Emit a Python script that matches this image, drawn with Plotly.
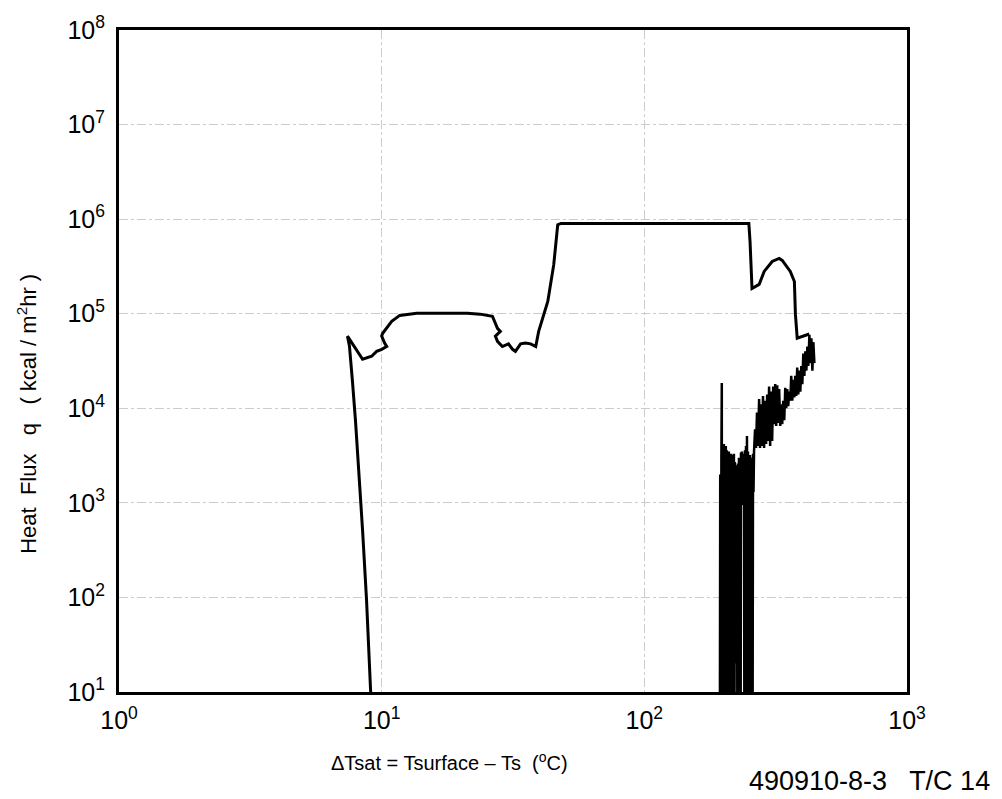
import plotly.graph_objects as go

# ---- data (ΔTsat in °C, q in kcal/m2hr) ----
main_dt = [9.08, 8.76, 8.46, 8.16, 7.95, 7.74, 7.54, 7.41,
           8.46, 9.16, 9.57, 10.0, 10.45, 10.26, 10.0, 10.09, 10.92, 11.72,
           13.6, 16.7, 21.2, 23.7, 26.4, 27.6, 28.3, 27.1, 27.6, 28.8, 30.4,
           31.5, 32.3, 33.8, 35.3, 36.9, 38.6, 39.6, 42.9, 45.2, 46.8, 48.1,
           250.0, 252.6, 257.0, 273.5, 285.9, 306.7, 326.0, 335.0, 359.5,
           372.6, 376.0, 382.0, 424.6]
main_q = [10, 93, 509, 2790, 7350, 19400, 45300, 58000,
          33000, 35500, 40000, 42000, 45000, 49000, 58000, 62000, 83000, 96000,
          101000, 101000, 101000, 99000, 94000, 70000, 65000, 58000, 51000, 45000, 48000,
          42000, 40000, 48000, 49000, 48000, 45000, 65000, 135000, 330000, 870000, 900000,
          900000, 580000, 185000, 204000, 280000, 357000, 384000, 366000, 280000,
          219000, 99000, 55000, 61000]

noise_dt = [193.8, 194.5, 195.6, 196.5, 197.2, 197.6, 199.0, 199.5, 200.8, 201.5,
            202.5, 203.2, 204.3, 205.0, 206.2, 207.0, 208.0, 209.0, 209.8, 210.7,
            211.7, 212.5, 213.6, 214.5, 215.4, 216.4, 217.4, 218.3, 219.3, 220.2,
            221.2, 222.2, 223.2, 224.2, 225.2, 226.2, 227.2, 228.2, 229.2, 230.2,
            231.2, 232.5, 233.3, 234.3, 235.3, 236.5, 237.5, 238.5, 239.5, 240.5,
            241.6, 242.7, 243.8, 244.8, 245.9, 247.0, 248.1, 249.2, 250.3, 251.4,
            252.5, 253.6, 254.7, 255.8, 257.0, 258.1, 259.3, 260.4, 261.6,
            264.0, 266.2, 268.5, 271.0, 273.5, 275.8, 278.0, 280.7, 283.0, 285.7,
            288.0, 290.8, 293.5, 296.0, 298.5, 301.3, 304.0, 306.6, 309.5, 312.1,
            315.0, 317.7, 320.5, 323.3, 326.0, 329.1, 332.0, 334.9, 338.0, 340.9,
            344.0, 346.9, 350.0, 353.1, 356.0, 359.4, 362.5, 365.8, 369.0, 372.3,
            375.5, 378.8, 382.0, 385.6, 389.0, 392.5, 396.0, 399.4, 403.0, 406.6,
            410.0, 413.9, 417.5, 421.1, 425.0, 428.7, 432.5, 436.3, 440.0, 444.0]
noise_q = [1, 2000, 1, 3000, 18500, 1, 3500, 1, 4200, 1,
           3800, 1, 4000, 1, 3600, 1, 3200, 1, 3500, 1,
           3000, 1, 3300, 1, 2900, 1, 3200, 1, 3300, 1,
           2700, 20, 2500, 25, 2300, 1, 2600, 1, 3000, 1,
           2800, 1, 3400, 1000, 3500, 950, 3200, 1000, 3300, 1,
           3600, 1, 4000, 1, 5100, 1, 3500, 1, 3000, 1,
           3200, 1, 2800, 1, 3000, 1, 3300, 1300, 3500,
           6000, 3800, 9000, 4000, 12500, 3800, 11000, 4000, 13500, 3800,
           12000, 4200, 14000, 4500, 17000, 4000, 15000, 4500, 17000, 6800,
           18000, 6500, 17500, 7000, 16000, 6500, 11000, 6800, 12000, 7500,
           16500, 10000, 16000, 10500, 15000, 12000, 22000, 12000, 20000, 13000,
           22000, 13500, 27000, 14000, 25000, 15000, 28000, 18000, 38000, 22000,
           40000, 25000, 45000, 28000, 60000, 30000, 55000, 25000, 50000, 30000]

x_tickvals = [1, 10, 100, 1000]
x_ticktext = ["10<sup>0</sup>", "10<sup>1</sup>", "10<sup>2</sup>", "10<sup>3</sup>"]
y_tickvals = [1e1, 1e2, 1e3, 1e4, 1e5, 1e6, 1e7, 1e8]
y_ticktext = ["10<sup>1</sup>", "10<sup>2</sup>", "10<sup>3</sup>", "10<sup>4</sup>",
              "10<sup>5</sup>", "10<sup>6</sup>", "10<sup>7</sup>", "10<sup>8</sup>"]

FONT = "Liberation Sans"

fig = go.Figure()
fig.add_trace(go.Scatter(x=noise_dt, y=noise_q, mode="lines",
                         line=dict(color="black", width=2.5), hoverinfo="skip"))
fig.add_trace(go.Scatter(x=main_dt, y=main_q, mode="lines",
                         line=dict(color="black", width=3), hoverinfo="skip"))

axis_common = dict(showline=True, mirror=True, linecolor="black", linewidth=3,
                   showgrid=True, gridcolor="#cccccc", gridwidth=1, griddash="dashdot",
                   zeroline=False, ticks="", tickfont=dict(family=FONT, size=25, color="black"))

fig.update_xaxes(type="log", range=[0, 3], tickvals=x_tickvals, ticktext=x_ticktext,
                 ticklabelstandoff=4, **axis_common)
fig.update_yaxes(type="log", range=[1, 8], tickvals=y_tickvals, ticktext=y_ticktext,
                 ticklabelstandoff=6, **axis_common)

fig.add_annotation(text="ΔTsat = Tsurface – Ts  (<sup>o</sup>C)", xref="paper", yref="paper",
                   x=0.42, y=-0.105, xanchor="center", yanchor="middle", showarrow=False,
                   font=dict(family=FONT, size=20, color="black"))
fig.add_annotation(text="Heat  Flux   q   ( kcal / m<sup>2</sup>hr )", xref="paper", yref="paper",
                   x=-0.117, y=0.42, xanchor="center", yanchor="middle", textangle=-90,
                   showarrow=False, font=dict(family=FONT, size=22, color="black"))
fig.add_annotation(text="490910-8-3   T/C 14", xref="paper", yref="paper",
                   x=1.108, y=-0.135, xanchor="right", yanchor="middle", showarrow=False,
                   font=dict(family=FONT, size=27, color="black"))

fig.update_layout(width=1002, height=799, showlegend=False,
                  plot_bgcolor="white", paper_bgcolor="white",
                  margin=dict(l=119, r=95, t=28, b=107))

fig.write_html("out.html")
